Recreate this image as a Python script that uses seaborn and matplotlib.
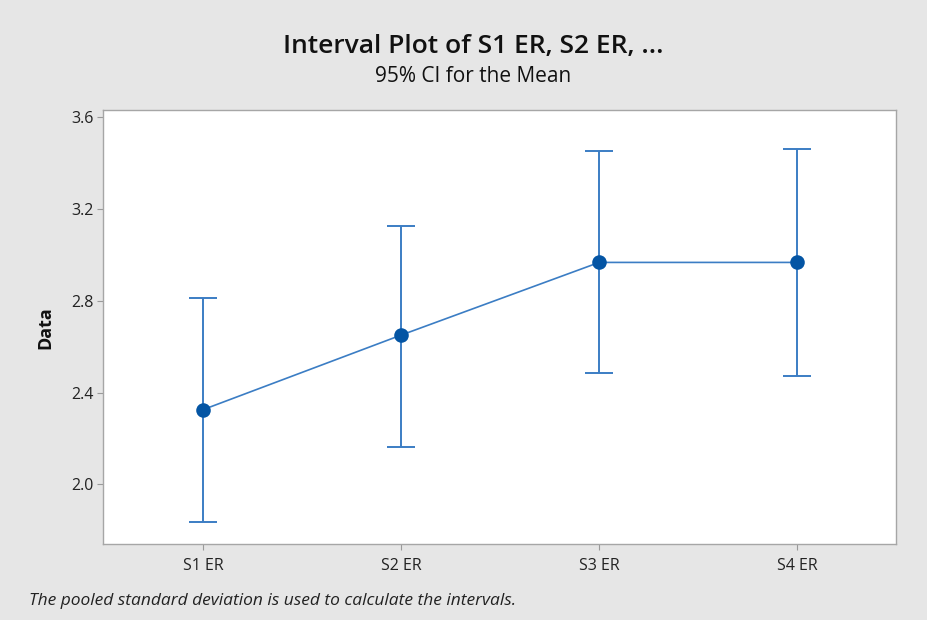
import matplotlib
matplotlib.use("Agg")
import matplotlib.pyplot as plt
import seaborn as sns
import pandas as pd

categories = ["S1 ER", "S2 ER", "S3 ER", "S4 ER"]
means = [2.326, 2.650, 2.966, 2.966]
upper = [2.810, 3.124, 3.451, 3.458]
lower = [1.838, 2.163, 2.485, 2.472]
yticks = [2.0, 2.4, 2.8, 3.2, 3.6]

sns.set_style("white")
plt.rcParams['font.family'] = ['Open Sans', 'DejaVu Sans']

bg = "#e6e6e6"
line_c = "#3b7dc4"
mark_c = "#0455a4"

fig = plt.figure(figsize=(9.28, 6.2), dpi=100, facecolor=bg)
ax = fig.add_axes([0.1115, 0.1226, 0.854, 0.6992])
ax.set_facecolor("white")

df = pd.DataFrame({"cat": categories, "mean": means})
sns.lineplot(data=df, x="cat", y="mean", ax=ax, color=line_c, lw=1.2, sort=False)
xs = list(range(len(categories)))
yerr = [[m - l for m, l in zip(means, lower)], [u - m for m, u in zip(means, upper)]]
ax.errorbar(xs, means, yerr=yerr, fmt="none", ecolor=line_c, elinewidth=1.4,
            capsize=10, capthick=1.4, zorder=3)
sns.scatterplot(data=df, x="cat", y="mean", ax=ax, color=mark_c, s=110,
                edgecolor=mark_c, linewidth=0, zorder=4)

ax.set_xlim(-0.505, 3.5)
ax.set_ylim(1.741, 3.627)
ax.set_yticks(yticks)
ax.set_yticklabels([f"{v:.1f}" for v in yticks])
ax.set_xlabel("")
ax.set_ylabel("Data", fontsize=13, fontweight="bold", color="#111111", labelpad=12)
ax.tick_params(axis="both", which="both", direction="out", length=4, width=0.8,
               color="#9a9a9a", labelsize=11.5, labelcolor="#222222", left=True, bottom=True)
ax.tick_params(axis="x", pad=6)
ax.tick_params(axis="y", pad=3)
for s in ax.spines.values():
    s.set_color("#a6a6a6")
    s.set_linewidth(1.0)

fig.text(0.510, 0.925, "Interval Plot of S1 ER, S2 ER, ...", ha="center", va="center",
         fontsize=19, fontweight="semibold", color="#111111")
fig.text(0.510, 0.877, "95% CI for the Mean", ha="center", va="center",
         fontsize=15, color="#111111")
fig.text(0.031, 0.031, "The pooled standard deviation is used to calculate the intervals.",
         ha="left", va="center", fontsize=12.5, style="italic", color="#222222")

fig.savefig("out.png", dpi=100, facecolor=bg)
